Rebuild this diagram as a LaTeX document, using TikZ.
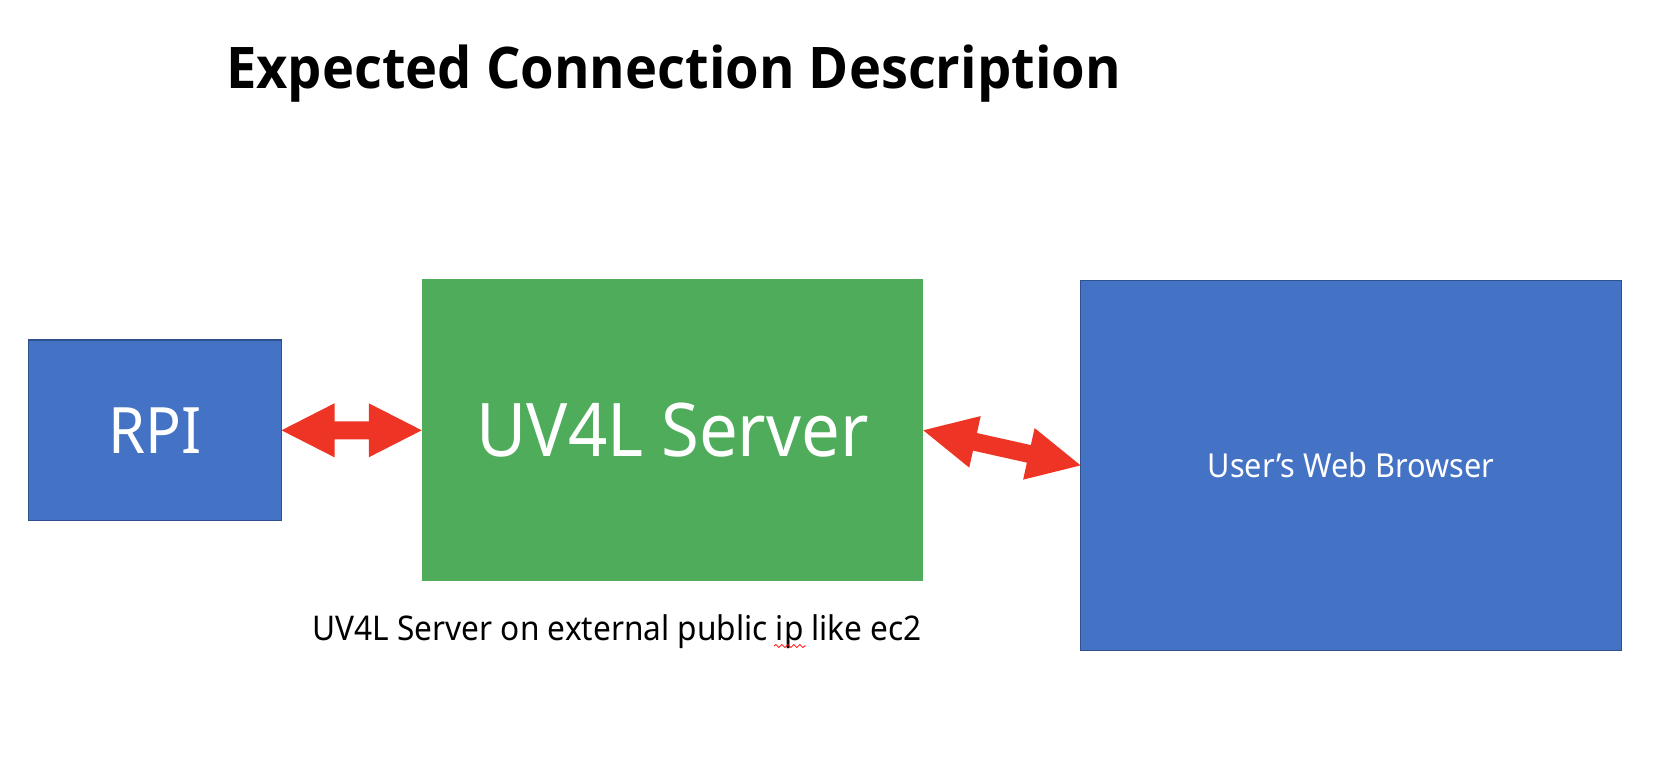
\documentclass[tikz,border=0pt]{standalone}
\usepackage{fontspec}
\setmainfont{Noto Sans}[FakeStretch=0.93]
\newfontfamily\titlefont{Open Sans}[FakeStretch=0.945]
\usetikzlibrary{calc,decorations.pathmorphing}
\definecolor{boxblue}{RGB}{68,114,196}
\definecolor{boxborder}{RGB}{47,82,143}
\definecolor{boxgreen}{RGB}{79,172,91}
\definecolor{arrred}{RGB}{238,52,36}
\newcommand{\dblarrow}[5]{% start, end, head length, head half width, shaft half width
  \path (#1) coordinate (ta) (#2) coordinate (tb);
  \path ($(ta)!#3!(tb)$) coordinate (ha) ($(tb)!#3!(ta)$) coordinate (hb);
  \fill[arrred] (ta) -- ($(ha)!#4!90:(tb)$) -- ($(ha)!#5!90:(tb)$) -- ($(hb)!#5!-90:(ta)$) -- ($(hb)!#4!-90:(ta)$) -- (tb)
    -- ($(hb)!#4!90:(ta)$) -- ($(hb)!#5!90:(ta)$) -- ($(ha)!#5!-90:(tb)$) -- ($(ha)!#4!-90:(tb)$) -- cycle;
}
\begin{document}
\begin{tikzpicture}[x=1pt,y=-1pt,
  bluebox/.style={draw=boxborder, line width=1.3pt, fill=boxblue, text=white, inner sep=0pt, outer sep=0pt},
  greenbox/.style={fill=boxgreen, text=white, inner sep=0pt, outer sep=0pt}]
\useasboundingbox[fill=white] (0,0) rectangle (1666,774);
\node[anchor=base west, inner sep=0pt, font=\titlefont\fontsize{57.4}{64}\selectfont\bfseries] (title) at (226,88) {Expected Connection Description};
\node[bluebox, minimum width=253pt, minimum height=180.6pt, font=\fontsize{64}{70}\selectfont] (rpi) at (155,430.3) {RPI};
\node[greenbox, minimum width=501.5pt, minimum height=301.8pt, font=\fontsize{74}{80}\selectfont] (uv) at (672.5,430.3) {UV4L Server};
\node[bluebox, minimum width=540.8pt, minimum height=369.8pt, font=\fontsize{33}{40}\selectfont] (br) at (1351,465.4) {User’s Web Browser};
\node[anchor=base west, font=\fontsize{34}{40}\selectfont] (cap) at (309,640) {UV4L Server on external public ip like ec2};
\dblarrow{rpi.east}{uv.west}{53pt}{27pt}{9pt}
\dblarrow{uv.east}{br.west}{53pt}{26.4pt}{9pt}
\draw[red, line width=0.8pt, decorate, decoration={snake, amplitude=1.5pt, segment length=6pt}] (774,646) -- (806,646);
\end{tikzpicture}
\end{document}
